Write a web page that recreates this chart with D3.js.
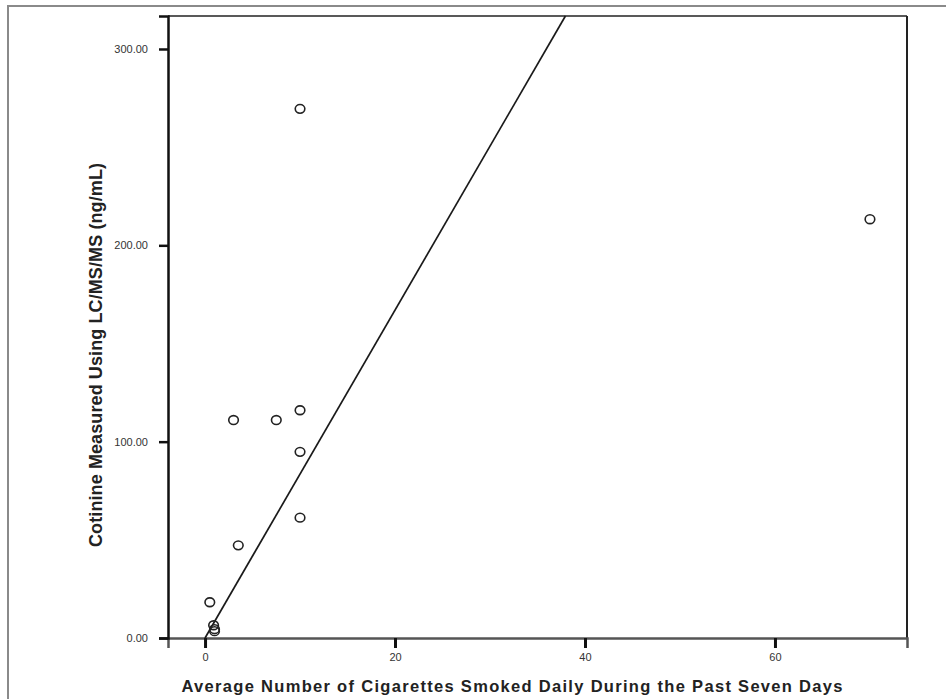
<!DOCTYPE html>
<html>
<head>
<meta charset="utf-8">
<script src="https://cdn.jsdelivr.net/npm/d3@7"></script>
<style>
  body { margin: 0; background: #fff; }
  svg { display: block; font-family: "Liberation Sans", Arial, sans-serif; }
</style>
</head>
<body>
<svg id="chart" width="946" height="699"></svg>
<script>
// cigarettes per day vs cotinine (ng/mL)
var cigsPerDay = [10, 70, 3, 7.5, 10, 10, 10, 3.5, 0.5, 0.9, 1, 1];
var cotinine   = [269.5, 213.3, 111, 111, 116, 94.8, 61.3, 47.2, 18.2, 6.5, 4.5, 3.5];

var xTicks = [0, 20, 40, 60];
var yTicks = [0, 100, 200, 300];

// fit line as drawn in the figure
var fitSlope = 8.35, fitIntercept = 0;

var margin = { top: 16, right: 39, bottom: 61, left: 168 },
  width = 946 - margin.left - margin.right,
  height = 699 - margin.top - margin.bottom;

var svg = d3.select('svg#chart');

// outer gray frame (only top/left visible)
svg.append("rect")
  .attr("x", 8).attr("y", 6)
  .attr("width", 980).attr("height", 740)
  .attr("fill", "none")
  .attr("stroke", "#8a8a8a")
  .attr("stroke-width", 2);

var g = svg.append("g")
  .attr("transform", "translate(" + margin.left + "," + margin.top + ")");

var xScale = d3.scaleLinear().domain([-3.9, 73.9]).range([0, width]);
var yScale = d3.scaleLinear().domain([0, 316.8]).range([height, 0]);

// plot frame top + right
g.append("line").attr("x1", 0).attr("x2", width).attr("y1", 0).attr("y2", 0)
  .attr("stroke", "#222").attr("stroke-width", 1.5);
g.append("line").attr("x1", width).attr("x2", width).attr("y1", 0).attr("y2", height)
  .attr("stroke", "#222").attr("stroke-width", 2);

var xAxis = g.append("g")
  .attr("transform", "translate(0," + height + ")")
  .call(d3.axisBottom(xScale).tickValues(xTicks).tickSize(10).tickPadding(5).tickFormat(d3.format("d")));
xAxis.select(".domain").attr("stroke", "#555").attr("stroke-width", 2.5);
xAxis.selectAll(".tick line").attr("stroke", "#111").attr("stroke-width", 3);
xAxis.selectAll("text").attr("fill", "#333").style("font-size", "11px");

var yAxis = g.append("g")
  .call(d3.axisLeft(yScale).tickValues(yTicks).tickSize(9).tickPadding(11).tickFormat(d3.format(".2f")));
yAxis.select(".domain").attr("stroke", "#111").attr("stroke-width", 2.5);
yAxis.selectAll(".tick line").attr("stroke", "#111").attr("stroke-width", 2.5);
yAxis.selectAll("text").attr("fill", "#333").style("font-size", "11px");

// fit line, clipped to the plot
var yMax = yScale.domain()[1];
var fitX0 = (0 - fitIntercept) / fitSlope,
  fitX1 = (yMax - fitIntercept) / fitSlope;
g.append("line")
  .attr("x1", xScale(fitX0)).attr("y1", yScale(fitSlope * fitX0 + fitIntercept))
  .attr("x2", xScale(fitX1)).attr("y2", yScale(fitSlope * fitX1 + fitIntercept))
  .attr("stroke", "#1a1a1a")
  .attr("stroke-width", 1.7);

var pts = cigsPerDay.map(function (c, i) { return { x: c, y: cotinine[i] }; });
g.selectAll("ellipse.pt")
  .data(pts)
  .enter().append("ellipse")
  .attr("class", "pt")
  .attr("cx", function (d) { return xScale(d.x); })
  .attr("cy", function (d) { return yScale(d.y); })
  .attr("rx", 4.8)
  .attr("ry", 4.4)
  .attr("fill", "none")
  .attr("stroke", "#222")
  .attr("stroke-width", 1.6);

// axis titles
svg.append("text")
  .attr("x", 512).attr("y", 692)
  .attr("text-anchor", "middle")
  .attr("textLength", 661)
  .attr("lengthAdjust", "spacing")
  .style("font-size", "16.5px")
  .style("font-weight", "bold")
  .attr("fill", "#222")
  .text("Average Number of Cigarettes Smoked Daily During the Past Seven Days");

svg.append("text")
  .attr("transform", "translate(102,355) rotate(-90)")
  .attr("text-anchor", "middle")
  .attr("textLength", 384)
  .attr("lengthAdjust", "spacing")
  .style("font-size", "18px")
  .style("font-weight", "bold")
  .attr("fill", "#222")
  .text("Cotinine Measured Using LC/MS/MS (ng/mL)");
</script>
</body>
</html>
